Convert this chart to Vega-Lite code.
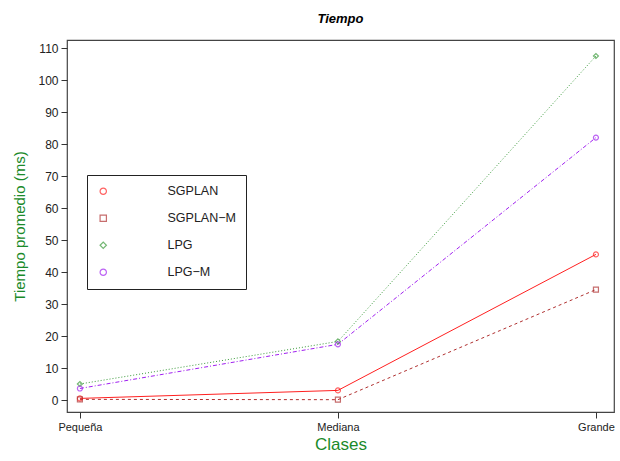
{
  "$schema": "https://vega.github.io/schema/vega-lite/v6.json",
  "width": 547,
  "height": 372,
  "autosize": {"type": "none"},
  "padding": {"left": 67, "top": 40, "right": 6, "bottom": 49},
  "background": "white",
  "title": {"text": "Tiempo", "font": "Liberation Sans", "fontSize": 13, "fontStyle": "italic", "fontWeight": "bold", "color": "black", "offset": 14},
  "config": {
    "view": {"stroke": "#444", "strokeWidth": 1.2},
    "font": "Liberation Sans"
  },
  "data": {"values": [
    {"clase": 1, "serie": "SGPLAN", "valor": 0.5},
    {"clase": 2, "serie": "SGPLAN", "valor": 3.0},
    {"clase": 3, "serie": "SGPLAN", "valor": 45.5},
    {"clase": 1, "serie": "SGPLAN−M", "valor": 0.2},
    {"clase": 2, "serie": "SGPLAN−M", "valor": 0.1},
    {"clase": 3, "serie": "SGPLAN−M", "valor": 34.5},
    {"clase": 1, "serie": "LPG", "valor": 5.0},
    {"clase": 2, "serie": "LPG", "valor": 18.3},
    {"clase": 3, "serie": "LPG", "valor": 107.5},
    {"clase": 1, "serie": "LPG−M", "valor": 3.6},
    {"clase": 2, "serie": "LPG−M", "valor": 17.4},
    {"clase": 3, "serie": "LPG−M", "valor": 82.0}
  ]},
  "encoding": {
    "x": {"field": "clase", "type": "quantitative",
      "scale": {"domain": [0.95, 3.07], "nice": false, "zero": false},
      "axis": {"values": [1, 2, 3], "labelExpr": "datum.value == 1 ? 'Pequeña' : datum.value == 2 ? 'Mediana' : 'Grande'",
        "title": "Clases", "titleColor": "#1a8a2a", "titleFontSize": 17, "titleFontWeight": "normal", "titlePadding": 4,
        "domain": false, "grid": false, "tickColor": "#333", "tickSize": 6, "labelFontSize": 11, "labelColor": "#222", "labelPadding": 3}},
    "y": {"field": "valor", "type": "quantitative",
      "scale": {"domain": [-3.75, 112.5], "nice": false, "zero": false},
      "axis": {"values": [0,10,20,30,40,50,60,70,80,90,100,110],
        "title": "Tiempo promedio (ms)", "titleColor": "#1a8a2a", "titleFontSize": 15, "titleFontWeight": "normal", "titlePadding": 10,
        "domain": false, "grid": false, "tickColor": "#333", "tickSize": 6, "labelFontSize": 12, "labelColor": "#222", "labelPadding": 3}},
    "color": {"field": "serie", "type": "nominal",
      "scale": {"domain": ["SGPLAN", "SGPLAN−M", "LPG", "LPG−M"], "range": ["#ff2020", "#b03030", "#3a9a3a", "#a020f0"]},
      "legend": {"orient": "none", "legendX": 20, "legendY": 135, "title": null,
        "strokeColor": "#222", "padding": 10, "labelFontSize": 12.5, "labelColor": "#222", "symbolSize": 40, "symbolStrokeWidth": 1.2,
        "rowPadding": 14, "labelOffset": 58}}
  },
  "layer": [
    {"transform": [{"filter": "datum.serie == 'SGPLAN'"}], "mark": {"type": "line", "strokeWidth": 1}},
    {"transform": [{"filter": "datum.serie == 'SGPLAN−M'"}], "mark": {"type": "line", "strokeWidth": 1, "strokeDash": [3, 3]}},
    {"transform": [{"filter": "datum.serie == 'LPG'"}], "mark": {"type": "line", "strokeWidth": 1, "strokeDash": [1, 2]}},
    {"transform": [{"filter": "datum.serie == 'LPG−M'"}], "mark": {"type": "line", "strokeWidth": 1, "strokeDash": [4, 2, 1, 2]}},
    {"mark": {"type": "point", "filled": false, "strokeWidth": 1.2, "size": 25},
      "encoding": {"shape": {"field": "serie", "type": "nominal",
        "scale": {"domain": ["SGPLAN", "SGPLAN−M", "LPG", "LPG−M"], "range": ["circle", "square", "diamond", "circle"]},
        "legend": null}}}
  ]
}
